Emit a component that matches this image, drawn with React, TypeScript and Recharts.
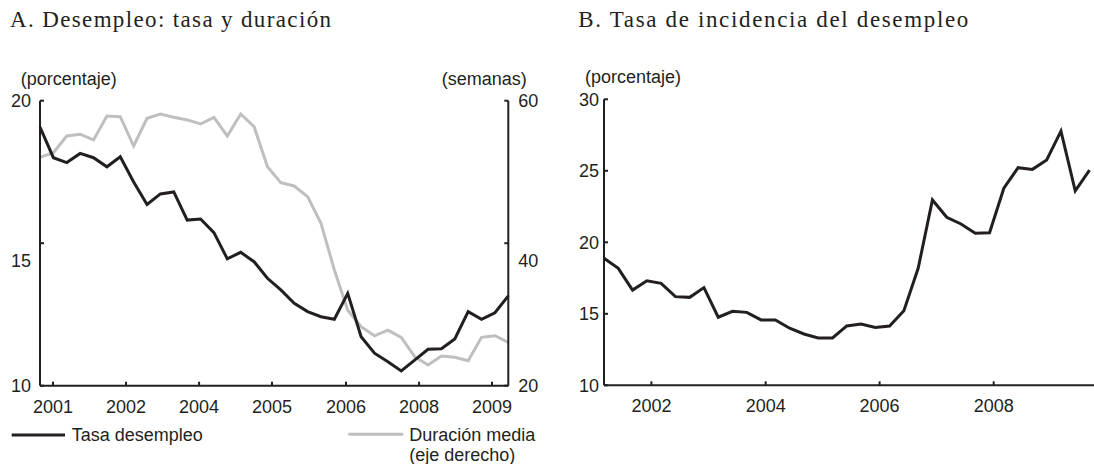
import { LineChart, Line, XAxis, YAxis } from "recharts";

const INK = "#231f20";
const GREY = "#bfbfbf";
const SANS = '"Liberation Sans", Arial, sans-serif';
const SERIF = '"Liberation Serif", "Times New Roman", serif';

// Panel A: quarterly observations (36)
const tasaDesempleo = [
  19.07, 18.0, 17.83, 18.15, 18.0, 17.68, 18.03, 17.15, 16.36, 16.73, 16.8, 15.81,
  15.85, 15.37, 14.45, 14.68, 14.35, 13.77, 13.36, 12.89, 12.6, 12.42, 12.33, 13.24,
  11.72, 11.14, 10.84, 10.52, 10.9, 11.28, 11.3, 11.64, 12.6, 12.33, 12.56, 13.15,
];
const duracionMedia = [
  52.05, 52.7, 55.05, 55.3, 54.5, 57.85, 57.76, 53.64, 57.53, 58.13, 57.67, 57.3,
  56.73, 57.67, 55.05, 58.13, 56.35, 50.74, 48.5, 48.03, 46.53, 42.8, 36.24, 30.6,
  28.28, 27.0, 27.8, 26.79, 24.07, 22.9, 24.17, 23.99, 23.5, 26.79, 27.02, 26.09,
];
const leftTickValues = [0.97, 6.43, 11.89, 17.34, 22.87, 28.33, 33.78];
const leftTickLabels = ["2001", "2002", "2004", "2005", "2006", "2008", "2009"];
const pctTicksA = [10, 15, 20];
const weekTicks = [20, 40, 60];

// Panel B: incidence rate, quarterly (visible part)
const tasaIncidencia = [
  18.88, 18.18, 16.66, 17.31, 17.13, 16.2, 16.15, 16.83, 14.76, 15.17, 15.1, 14.57,
  14.57, 13.99, 13.59, 13.31, 13.31, 14.15, 14.29, 14.05, 14.15, 15.22, 18.18, 22.96,
  21.75, 21.28, 20.63, 20.67, 23.78, 25.22, 25.1, 25.76, 27.78, 23.59, 25.05,
];
const rightTickValues = [3.32, 11.32, 19.3, 27.29];
const rightTickLabels = ["2002", "2004", "2006", "2008"];
const pctTicksB = [10, 15, 20, 25, 30];

const leftData = tasaDesempleo.map((v, i) => ({ i, tasa: v, duracion: duracionMedia[i] }));
const rightData = tasaIncidencia.map((v, i) => ({ i, incidencia: v }));

function YTick(props: any) {
  const { x, y, payload, side, gap, shiftFor } = props;
  const left = side === "left";
  // the source chart draws its middle labels a little below their ticks
  const shift = shiftFor && shiftFor(payload.value) ? 17 : 0;
  return (
    <g>
      <line x1={x} x2={left ? x + 4 : x - 4} y1={y} y2={y} stroke={INK} strokeWidth={2} />
      <text
        x={left ? x - gap : x + gap}
        y={y + shift}
        dy="0.36em"
        textAnchor={left ? "end" : "start"}
        fontFamily={SANS}
        fontSize={18}
        fill={INK}
      >
        {payload.value}
      </text>
    </g>
  );
}

function XTick(props: any) {
  const { x, y, index, labels, drop } = props;
  return (
    <g>
      <line x1={x} x2={x} y1={y} y2={y - 4} stroke={INK} strokeWidth={2} />
      <text x={x} y={y + drop} textAnchor="middle" fontFamily={SANS} fontSize={18} fill={INK}>
        {labels[index]}
      </text>
    </g>
  );
}

const axisLine = { stroke: INK, strokeWidth: 2 };

export default function App() {
  return (
    <div
      style={{
        position: "fixed",
        left: 0,
        top: 0,
        width: 1094,
        height: 464,
        overflow: "hidden",
        background: "#fff",
      }}
    >
      {/* Panel A */}
      <div style={{ position: "absolute", left: 0, top: 0 }}>
        <LineChart
          width={550}
          height={430}
          data={leftData}
          margin={{ top: 100.7, right: 1.7, left: 0, bottom: 14.3 }}
        >
          <XAxis
            dataKey="i"
            type="number"
            domain={[0, 35]}
            ticks={leftTickValues}
            interval={0}
            height={30}
            tickSize={0}
            tickMargin={0}
            tickLine={false}
            axisLine={axisLine}
            tick={<XTick labels={leftTickLabels} drop={27} />}
          />
          <YAxis
            yAxisId="pct"
            domain={[10, 20]}
            ticks={pctTicksA}
            interval={0}
            width={40}
            tickSize={0}
            tickMargin={0}
            tickLine={false}
            axisLine={axisLine}
            tick={<YTick side="left" gap={9} shiftFor={(v: number) => v === 15} />}
          />
          <YAxis
            yAxisId="sem"
            orientation="right"
            domain={[20, 60]}
            ticks={weekTicks}
            interval={0}
            width={40}
            tickSize={0}
            tickMargin={0}
            tickLine={false}
            axisLine={axisLine}
            tick={<YTick side="right" gap={10} shiftFor={(v: number) => v === 40} />}
          />
          <Line
            yAxisId="sem"
            type="linear"
            dataKey="duracion"
            stroke={GREY}
            strokeWidth={3}
            strokeLinejoin="miter"
            dot={false}
            activeDot={false}
            isAnimationActive={false}
          />
          <Line
            yAxisId="pct"
            type="linear"
            dataKey="tasa"
            stroke={INK}
            strokeWidth={3}
            strokeLinejoin="miter"
            dot={false}
            activeDot={false}
            isAnimationActive={false}
          />
        </LineChart>
      </div>

      {/* Panel B */}
      <div style={{ position: "absolute", left: 564.3, top: 0 }}>
        <LineChart
          width={540}
          height={430}
          data={rightData}
          margin={{ top: 99.3, right: 0.2, left: 0, bottom: 14.7 }}
        >
          <XAxis
            dataKey="i"
            type="number"
            domain={[0, 35]}
            ticks={rightTickValues}
            interval={0}
            height={30}
            tickSize={0}
            tickMargin={0}
            tickLine={false}
            axisLine={axisLine}
            tick={<XTick labels={rightTickLabels} drop={26.5} />}
          />
          <YAxis
            domain={[10, 30]}
            ticks={pctTicksB}
            interval={0}
            width={40}
            tickSize={0}
            tickMargin={0}
            tickLine={false}
            axisLine={axisLine}
            tick={<YTick side="left" gap={5} />}
          />
          <Line
            type="linear"
            dataKey="incidencia"
            stroke={INK}
            strokeWidth={3}
            strokeLinejoin="miter"
            dot={false}
            activeDot={false}
            isAnimationActive={false}
          />
        </LineChart>
      </div>

      {/* titles, units and legend */}
      <svg
        width={1094}
        height={464}
        style={{ position: "absolute", left: 0, top: 0, pointerEvents: "none" }}
      >
        <g fontFamily={SERIF} fontSize={23} fill={INK}>
          <text x={10} y={27} textLength={321} lengthAdjust="spacing">
            A. Desempleo: tasa y duración
          </text>
          <text x={578.3} y={27} textLength={390} lengthAdjust="spacing">
            B. Tasa de incidencia del desempleo
          </text>
        </g>
        <g fontFamily={SANS} fontSize={18} fill={INK}>
          <text x={20.7} y={84.5}>(porcentaje)</text>
          <text x={526.7} y={84.5} textAnchor="end">(semanas)</text>
          <text x={585} y={83}>(porcentaje)</text>

          <line x1={11.7} x2={65} y1={435} y2={435} stroke={INK} strokeWidth={3} />
          <text x={71.7} y={441}>Tasa desempleo</text>
          <line x1={348.3} x2={403.3} y1={434.3} y2={434.3} stroke={GREY} strokeWidth={3} />
          <text x={409.3} y={440.5}>Duración media</text>
          <text x={409.3} y={460.5}>(eje derecho)</text>
        </g>
      </svg>
    </div>
  );
}
